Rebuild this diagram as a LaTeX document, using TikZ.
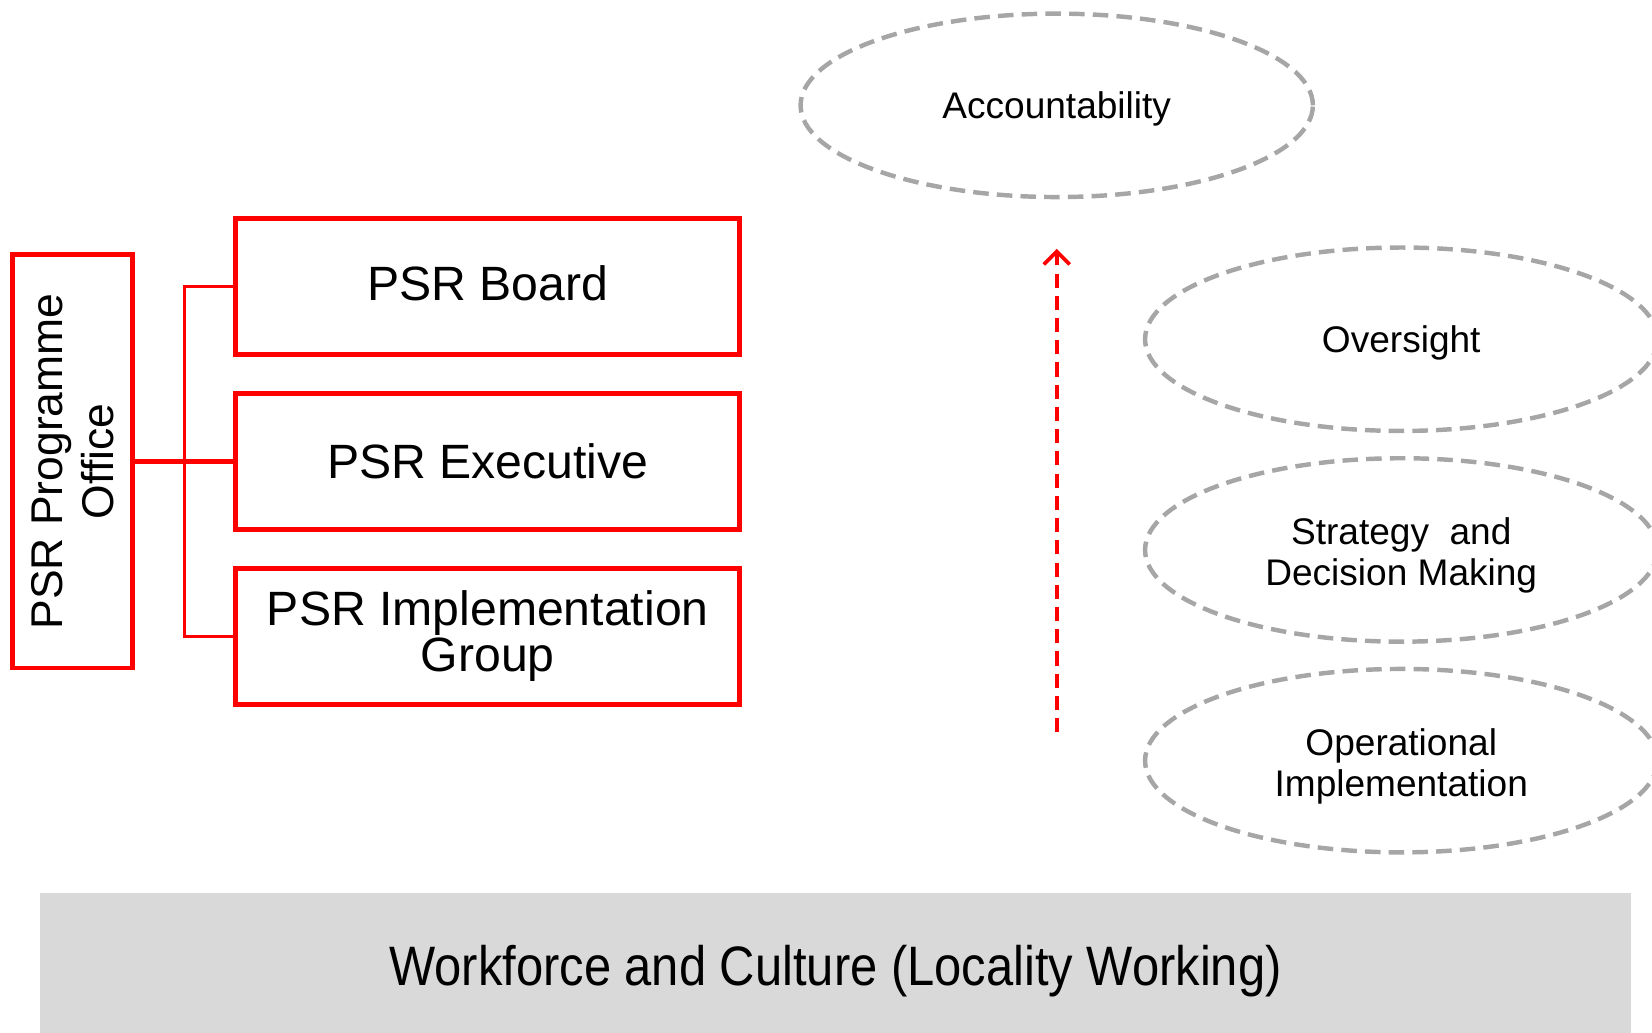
\documentclass[tikz,border=0pt]{standalone}
\usepackage{fontspec}
\setmainfont{Liberation Sans}
\usetikzlibrary{shapes.geometric,arrows.meta}
\definecolor{psrred}{RGB}{255,0,0}
\definecolor{ringgray}{RGB}{166,166,166}
\definecolor{basegray}{RGB}{217,217,217}
% text block set on the node centre, shifted by #1
\newcommand{\layertext}[2][3.9pt]{\raisebox{-#1}[0pt][0pt]{\begin{tabular}{@{}c@{}}#2\end{tabular}}}

\begin{document}
\begin{tikzpicture}[x=0.01cm, y=-0.01cm,
    unitbox/.style={draw=psrred, line width=1.3pt, minimum width=4.78cm, minimum height=1.29cm,
        inner sep=0pt, align=center, font=\fontsize{13}{12.4}\selectfont},
    officebox/.style={draw=psrred, line width=1.3pt, rotate=90, minimum width=3.92cm, minimum height=1.14cm,
        inner sep=0pt, align=center, font=\fontsize{12}{13.6}\selectfont},
    layer/.style={ellipse, draw=ringgray, line width=1.2pt, dash pattern=on 4.2pt off 2.2pt,
        minimum width=4.86cm, minimum height=1.74cm, inner sep=0pt,
        font=\fontsize{10}{11}\selectfont},
    link/.style={draw=psrred, line width=0.8pt},
    flow/.style={draw=psrred, line width=1pt, dash pattern=on 3.8pt off 2.2pt,
        -{Straight Barb[length=3.5pt,width=7pt]}}]

    \clip (0,0) rectangle (1568,980);

    % Workforce base band
    \node[fill=basegray, minimum width=15.10cm, minimum height=1.34cm, inner sep=0pt,
        font=\fontsize{15}{16}\selectfont] (base) at (793,915)
        {\raisebox{-5.7pt}[0pt][0pt]{\scalebox{0.88}[1]{Workforce and Culture (Locality Working)}}};

    % Governance boxes
    \node[officebox] (office) at (69,438) {PSR Programme\\Office};
    \node[unitbox] (board) at (463,272) {\raisebox{-3.7pt}[0pt][0pt]{PSR Board}};
    \node[unitbox] (exec) at (463,438) {PSR Executive};
    \node[unitbox] (impl) at (463,604) {PSR Implementation\\Group};

    % Bracket joining the office to the boxes
    \coordinate (bus) at (175,438);
    \draw[link] (board.west) -| (bus) |- (impl.west);
    \draw[link, line width=1.2pt] (office.south) -- (exec.west);

    % Layers of the framework
    \node[layer] (acc) at (1003,100) {\layertext{Accountability}};
    \node[layer] (over) at (1330,322) {\layertext{Oversight}};
    \node[layer] (strat) at (1330,522) {\layertext[4.4pt]{Strategy \ and\\Decision Making}};
    \node[layer] (oper) at (1330,722) {\layertext[4.4pt]{Operational\\Implementation}};

    % Upward arrow
    \coordinate (foot) at (1003,695);
    \draw[flow, shorten >=0.47cm] (foot) -- (acc.south);
\end{tikzpicture}
\end{document}
